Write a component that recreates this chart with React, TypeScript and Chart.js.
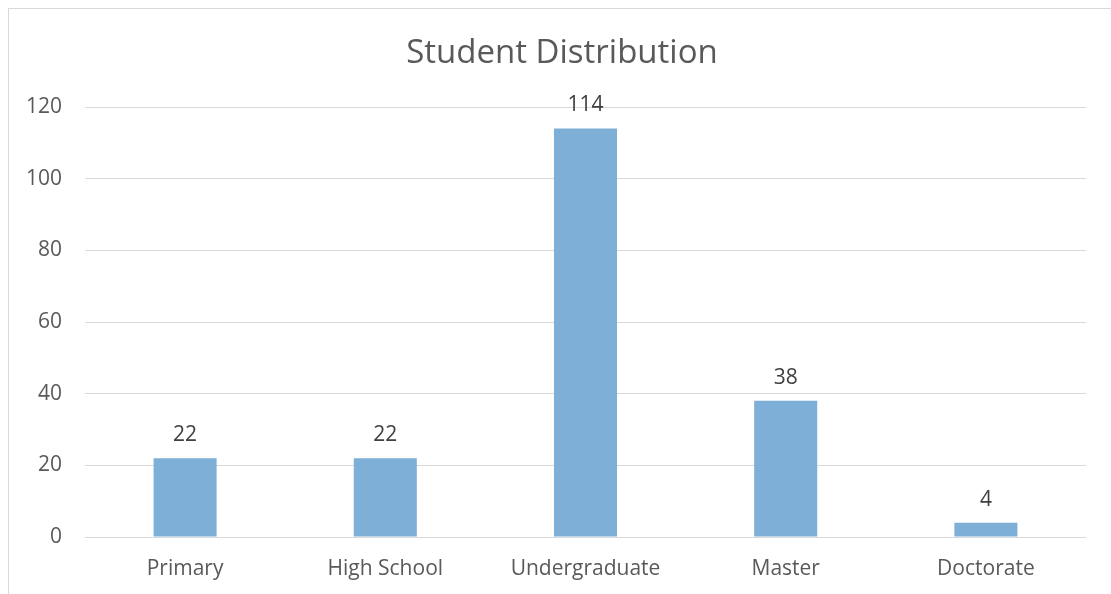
import { useEffect, useRef } from 'react';
import { Chart, registerables } from 'chart.js';

Chart.register(...registerables);

const chartTitle = 'Student Distribution';
const categories = ['Primary', 'High School', 'Undergraduate', 'Master', 'Doctorate'];
const students = [22, 22, 114, 38, 4];
const yMin = 0;
const yMax = 120;
const yStep = 20;

const FONT = '"Open Sans", "Noto Sans", sans-serif';

export default function App() {
  const ref = useRef<HTMLCanvasElement | null>(null);

  useEffect(() => {
    if (!ref.current) return;
    const labelPlugin = {
      id: 'valueLabels',
      afterDatasetsDraw(chart: any) {
        const ctx = chart.ctx;
        const meta = chart.getDatasetMeta(0);
        ctx.save();
        ctx.font = `21px ${FONT}`;
        ctx.fillStyle = '#404040';
        ctx.textAlign = 'center';
        ctx.textBaseline = 'middle';
        meta.data.forEach((el: any, i: number) => {
          ctx.fillText(String(chart.data.datasets[0].data[i]), el.x, el.y - 23);
        });
        ctx.restore();
      },
    };
    const titlePlugin = {
      id: 'customTitle',
      afterDraw(chart: any) {
        const ctx = chart.ctx;
        ctx.save();
        ctx.font = `33px ${FONT}`;
        ctx.fillStyle = '#595959';
        ctx.textAlign = 'center';
        ctx.textBaseline = 'middle';
        ctx.fillText(chartTitle, 562, 54);
        ctx.restore();
      },
    };
    const chart = new Chart(ref.current, {
      type: 'bar',
      data: {
        labels: categories,
        datasets: [
          {
            data: students,
            backgroundColor: '#7EAFD6',
            borderWidth: 0,
            categoryPercentage: 1,
            barPercentage: 0.315,
          },
        ],
      },
      options: {
        animation: false,
        responsive: false,
        layout: { padding: { top: 107, right: 25, left: 0, bottom: 0 } },
        plugins: { legend: { display: false }, tooltip: { enabled: false }, title: { display: false } },
        scales: {
          x: {
            grid: { display: false, drawTicks: false },
            border: { display: false },
            ticks: { color: '#595959', font: { family: FONT, size: 21 }, padding: 19 },
            afterFit(scale: any) {
              scale.height = 57;
            },
          },
          y: {
            min: yMin,
            max: yMax,
            grid: { color: '#d9d9d9', lineWidth: 1, drawTicks: false },
            border: { display: false },
            ticks: { stepSize: yStep, color: '#595959', font: { family: FONT, size: 21 }, padding: 23 },
            afterFit(scale: any) {
              scale.width = 85;
            },
          },
        },
      },
      plugins: [labelPlugin, titlePlugin],
    });
    return () => chart.destroy();
  }, []);

  return (
    <div style={{ position: 'fixed', left: 0, top: 0, width: 1111, height: 594, background: '#fff' }}>
      <div
        style={{
          position: 'absolute',
          left: 8,
          top: 8,
          width: 1103,
          height: 586,
          borderTop: '1px solid #d9d9d9',
          borderLeft: '1px solid #d9d9d9',
          boxSizing: 'border-box',
        }}
      />
      <canvas ref={ref} width={1111} height={594} style={{ position: 'absolute', left: 0, top: 0 }} />
    </div>
  );
}
